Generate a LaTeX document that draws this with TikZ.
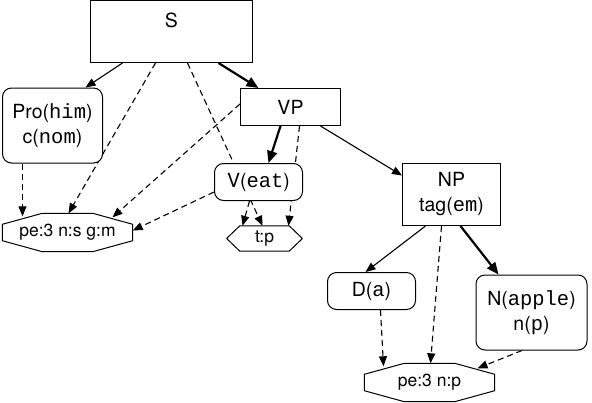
\documentclass[tikz,border=0pt]{standalone}
\usepackage{fontspec}
\setmainfont{TeX Gyre Heros}
\setmonofont{Liberation Mono}[Scale=1.05]
\usetikzlibrary{arrows.meta,backgrounds}

\begin{document}
\begin{tikzpicture}[x=1pt, y=-1pt]
  \tikzstyle{cat} = [draw, line width=1pt, fill=white, rectangle, align=center, inner sep=0pt, font={\fontsize{19.5}{25}\selectfont}]
  \tikzstyle{word} = [cat, rounded corners=9pt]
  \tikzstyle{feat} = [rectangle, inner sep=0pt, font={\fontsize{17.5}{20}\selectfont}]
  \tikzstyle{featBorder} = [draw, line width=1pt, fill=white]
  \tikzstyle{treeEdge} = [line width=1.1pt, -{Triangle[length=10pt,width=8pt]}]
  \tikzstyle{headEdge} = [line width=2.2pt, -{Triangle[length=12pt,width=10pt]}]
  \tikzstyle{featEdge} = [treeEdge, dash pattern=on 6pt off 4pt]

  \useasboundingbox (0,0) rectangle (592,402);

  \node[cat, minimum width=162pt, minimum height=62pt, text height=14pt, text depth=22pt] (S) at (171.5,31.5) {S};
  \node[word, minimum width=100pt, minimum height=75pt] (pro) at (52.5,125.5) {Pro(\texttt{him})\\c(\texttt{nom})};
  \node[cat, minimum width=100pt, minimum height=37pt] (VP) at (290.5,107) {VP};
  \node[word, minimum width=88pt, minimum height=37pt] (V) at (258.5,182) {V(\texttt{eat})};
  \node[feat, minimum width=75pt, minimum height=25pt] (vFeat) at (264.5,238.5) {t:p};
  \node[cat, minimum width=98pt, minimum height=62pt] (NP) at (451.5,194.5) {NP\\tag(\texttt{em})};
  \node[feat, minimum width=130pt, minimum height=38pt] (proFeat) at (67.5,232.5) {pe:3 n:s g:m};
  \node[word, minimum width=88pt, minimum height=37pt] (D) at (371.5,291) {D(\texttt{a})};
  \node[word, minimum width=111pt, minimum height=75pt] (N) at (531.5,312.5) {N(\texttt{apple})\\n(\texttt{p})};
  \node[feat, minimum width=130pt, minimum height=38pt] (npFeat) at (429.5,382.5) {pe:3 n:p};

  \begin{scope}[on background layer]
    \path[treeEdge]
    ([xshift=-49pt]S.south) edge ([xshift=33pt]pro.north)
    ([xshift=30pt]VP.south) edge ([yshift=19pt]NP.west)
    ([xshift=-26pt]NP.south) edge ([xshift=-6pt]D.north);
    \path[headEdge]
    ([xshift=47pt]S.south) edge ([xshift=-32pt]VP.north)
    ([xshift=-10pt]VP.south) edge ([xshift=10pt]V.north)
    ([xshift=9pt]NP.south) edge ([xshift=-33pt]N.north);
    \path[featEdge]
    ([xshift=-16pt]S.south) edge ([xshift=1pt]proFeat.north)
    ([xshift=16pt]S.south) edge ([xshift=-2pt]vFeat.north)
    ([yshift=3pt]VP.west) edge ([xshift=45pt,yshift=-4pt]proFeat.north)
    ([yshift=-10pt]V.west) edge ([yshift=2pt]proFeat.east)
    ([xshift=-30pt]pro.south) edge ([xshift=-45pt,yshift=-3pt]proFeat.north)
    ([xshift=9pt]VP.south) edge ([xshift=24pt]vFeat.north)
    ([xshift=-9pt]V.south) edge ([xshift=-22pt]vFeat.north)
    ([xshift=-10pt]NP.south) edge ([xshift=1pt]npFeat.north)
    ([xshift=9pt]D.south) edge ([xshift=-46pt,yshift=-3pt]npFeat.north)
    ([xshift=-9.5pt]N.south) edge ([xshift=48pt,yshift=-5pt]npFeat.north);

    % octagons and the hexagon, over the edges and under the labels
    \foreach \f/\cx/\cy in {proFeat/40/11, npFeat/40/11, vFeat/13/12.5}
      \draw[featBorder] ([xshift=\cx pt]\f.north west) -- ([xshift=-\cx pt]\f.north east)
        -- ([yshift=-\cy pt]\f.north east) -- ([yshift=\cy pt]\f.south east)
        -- ([xshift=-\cx pt]\f.south east) -- ([xshift=\cx pt]\f.south west)
        -- ([yshift=\cy pt]\f.south west) -- ([yshift=-\cy pt]\f.north west) -- cycle;
  \end{scope}
\end{tikzpicture}
\end{document}
